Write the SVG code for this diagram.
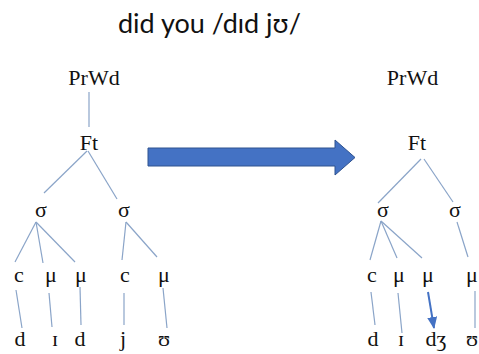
<svg xmlns="http://www.w3.org/2000/svg" width="479" height="354" viewBox="0 0 479 354">
<defs>
<style>
.t{font-family:"Liberation Serif",serif;font-size:22px;fill:#111;text-anchor:middle}
.title{font-family:Lato,"Open Sans",sans-serif;font-size:27px;fill:#111}
.e{stroke:#8AA4C8;stroke-width:1.2;fill:none}
</style>
<marker id="ah" viewBox="0 0 12 10" refX="11" refY="5" markerWidth="12" markerHeight="10" markerUnits="userSpaceOnUse" orient="auto">
<path d="M0,0 L12,5 L0,10 Z" fill="#4472C4"/>
</marker>
</defs>
<rect width="479" height="354" fill="#fff"/>
<text class="title" x="118" y="33">did you /dɪd jʊ/</text>

<g id="connectors">
<line class="e" x1="89" y1="92" x2="89" y2="127"/>
<line class="e" x1="87" y1="151" x2="44" y2="193"/>
<line class="e" x1="88" y1="151" x2="117" y2="199"/>
<line class="e" x1="36" y1="222" x2="15" y2="262"/>
<line class="e" x1="36" y1="222" x2="43" y2="263"/>
<line class="e" x1="36" y1="222" x2="75" y2="262"/>
<line class="e" x1="126" y1="222" x2="122" y2="260"/>
<line class="e" x1="126" y1="222" x2="157" y2="257"/>
<line class="e" x1="16" y1="290" x2="22" y2="328"/>
<line class="e" x1="49" y1="293" x2="52" y2="327"/>
<line class="e" x1="80" y1="287" x2="81" y2="325"/>
<line class="e" x1="124" y1="293" x2="124" y2="325"/>
<line class="e" x1="163" y1="288" x2="167" y2="328"/>

<line class="e" x1="421" y1="159" x2="378" y2="203"/>
<line class="e" x1="424" y1="159" x2="453" y2="202"/>
<line class="e" x1="381" y1="221" x2="370" y2="260"/>
<line class="e" x1="381" y1="221" x2="397" y2="258"/>
<line class="e" x1="381" y1="221" x2="422" y2="258"/>
<line class="e" x1="457" y1="222" x2="468" y2="257"/>
<line class="e" x1="371" y1="292" x2="375" y2="325"/>
<line class="e" x1="398" y1="293" x2="402" y2="333"/>
<line class="e" x1="475" y1="291" x2="475" y2="328"/>
<line x1="428" y1="292" x2="434" y2="328" stroke="#4472C4" stroke-width="2" marker-end="url(#ah)"/>
</g>

<g id="big-arrow">
<polygon points="148,148 335,148 335,140 355,157.5 335,175 335,166 148,166" fill="#4472C4" stroke="#2F528F" stroke-width="1"/>
</g>

<g id="left-tree" font-family="Liberation Serif, serif" font-size="22">
<g id="L-prwd"><text class="t" x="94" y="85">PrWd</text></g>
<g id="L-ft"><text class="t" x="89" y="150">Ft</text></g>
<g id="L-s1"><text class="t" x="41" y="217">σ</text></g>
<g id="L-s2"><text class="t" x="124" y="217">σ</text></g>
<g id="L-c1"><text class="t" x="19" y="282">c</text></g>
<g id="L-m1"><text class="t" x="51" y="282">μ</text></g>
<g id="L-m2"><text class="t" x="81" y="282">μ</text></g>
<g id="L-c2"><text class="t" x="125" y="282">c</text></g>
<g id="L-m3"><text class="t" x="164" y="282">μ</text></g>
<g id="L-d1"><text class="t" x="20" y="346">d</text></g>
<g id="L-i"><text class="t" x="55" y="346">ɪ</text></g>
<g id="L-d2"><text class="t" x="80" y="346">d</text></g>
<g id="L-j"><text class="t" x="123" y="346">j</text></g>
<g id="L-u"><text class="t" x="164" y="346">ʊ</text></g>
</g>

<g id="right-tree" font-family="Liberation Serif, serif" font-size="22">
<g id="R-prwd"><text class="t" x="412.5" y="85">PrWd</text></g>
<g id="R-ft"><text class="t" x="417" y="150">Ft</text></g>
<g id="R-s1"><text class="t" x="383" y="217">σ</text></g>
<g id="R-s2"><text class="t" x="455" y="217">σ</text></g>
<g id="R-c1"><text class="t" x="372" y="282">c</text></g>
<g id="R-m1"><text class="t" x="399" y="282">μ</text></g>
<g id="R-m2"><text class="t" x="428" y="282">μ</text></g>
<g id="R-m3"><text class="t" x="472" y="282">μ</text></g>
<g id="R-d"><text class="t" x="373" y="346">d</text></g>
<g id="R-i"><text class="t" x="401" y="346">ɪ</text></g>
<g id="R-dz"><text class="t" x="436" y="346">dʒ</text></g>
<g id="R-u"><text class="t" x="472" y="346">ʊ</text></g>
</g>
</svg>
